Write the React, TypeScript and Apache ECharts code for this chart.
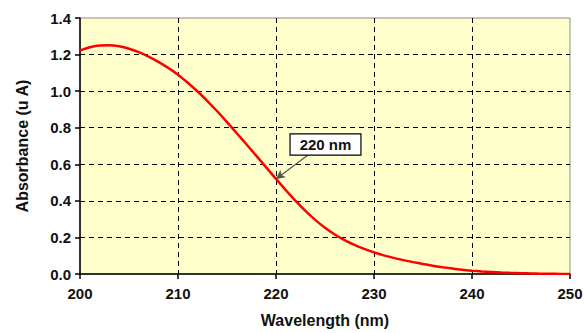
import React, { useEffect, useRef } from "react";
import * as echarts from "echarts";

const wavelengths = [200,201,202,203,204,205,206,207,208,209,210,211,212,213,214,215,216,217,218,219,220,221,222,223,224,225,226,227,228,229,230,231,232,233,234,235,236,237,238,239,240,241,242,243,244,245,246,247,248,249,250];
const absorbance = [1.222,1.240,1.250,1.251,1.245,1.232,1.213,1.189,1.160,1.127,1.090,1.046,0.998,0.946,0.890,0.831,0.770,0.708,0.646,0.583,0.520,0.459,0.400,0.345,0.296,0.253,0.216,0.185,0.159,0.137,0.118,0.102,0.088,0.076,0.065,0.055,0.045,0.037,0.030,0.023,0.018,0.014,0.011,0.008,0.006,0.0045,0.003,0.002,0.0012,0.0005,0.0];
const annotationText = "220 nm";
const annotationTarget = [220, 0.52];
const annotationBoxCenter = [225.05, 0.708];
const annotationArrowStart = [223.3, 0.652];

const FONT = "Liberation Sans, Arial, sans-serif";

export default function App() {
  const ref = useRef<HTMLDivElement>(null);
  useEffect(() => {
    if (!ref.current) return;
    const chart = echarts.init(ref.current, undefined, { renderer: "svg" });
    chart.setOption({
      animation: false,
      backgroundColor: "#ffffff",
      grid: {
        left: 80,
        right: 16,
        top: 18,
        bottom: 58,
        show: true,
        backgroundColor: "#FFFFCC",
        borderColor: "#8c8c8c",
        borderWidth: 1,
      },
      xAxis: {
        type: "value",
        min: 200,
        max: 250,
        interval: 10,
        name: "Wavelength (nm)",
        nameLocation: "middle",
        nameGap: 38,
        nameTextStyle: { fontFamily: FONT, fontWeight: "bold", fontSize: 16, color: "#111" },
        axisLine: { show: true, lineStyle: { color: "#000", width: 1.5 } },
        axisTick: { show: true, length: 5, lineStyle: { color: "#000", width: 1.5 } },
        axisLabel: { fontFamily: FONT, fontWeight: "bold", fontSize: 15, color: "#111", margin: 12 },
        splitLine: {
          show: true,
          showMinLine: false,
          showMaxLine: false,
          lineStyle: { color: "#000", type: [5, 4], width: 1 },
        },
      },
      yAxis: {
        type: "value",
        min: 0,
        max: 1.4,
        interval: 0.2,
        name: "Absorbance (u A)",
        nameLocation: "middle",
        nameGap: 50,
        nameTextStyle: { fontFamily: FONT, fontWeight: "bold", fontSize: 16, color: "#111" },
        axisLine: { show: true, lineStyle: { color: "#000", width: 1.5 } },
        axisTick: { show: true, length: 5, lineStyle: { color: "#000", width: 1.5 } },
        axisLabel: {
          fontFamily: FONT,
          fontWeight: "bold",
          fontSize: 15,
          color: "#111",
          margin: 9,
          formatter: (v: number) => v.toFixed(1),
        },
        splitLine: {
          show: true,
          showMinLine: false,
          showMaxLine: false,
          lineStyle: { color: "#000", type: [5, 4], width: 1 },
        },
      },
      series: [
        {
          type: "line",
          data: wavelengths.map((w, i) => [w, absorbance[i]]),
          smooth: 0.3,
          showSymbol: false,
          lineStyle: { color: "#FF0000", width: 2.5 },
          itemStyle: { color: "#FF0000" },
          markLine: {
            silent: true,
            symbol: ["none", "arrow"],
            symbolSize: [7, 9],
            label: { show: false },
            lineStyle: { color: "#555544", width: 1.2, type: "solid" },
            data: [[{ coord: annotationArrowStart }, { coord: annotationTarget }]],
          },
          markPoint: {
            silent: true,
            symbol: "circle",
            symbolSize: 0,
            itemStyle: { color: "transparent" },
            label: {
              show: true,
              position: "inside",
              formatter: annotationText,
              fontFamily: FONT,
              fontWeight: "bold",
              fontSize: 15,
              lineHeight: 16,
              color: "#111",
              backgroundColor: "#ffffff",
              borderColor: "#000",
              borderWidth: 1.2,
              padding: [2, 9],
            },
            data: [{ coord: annotationBoxCenter }],
          },
        },
      ],
    });
    return () => chart.dispose();
  }, []);
  return (
    <div
      ref={ref}
      style={{ position: "absolute", left: 0, top: 0, width: 586, height: 333 }}
    />
  );
}
